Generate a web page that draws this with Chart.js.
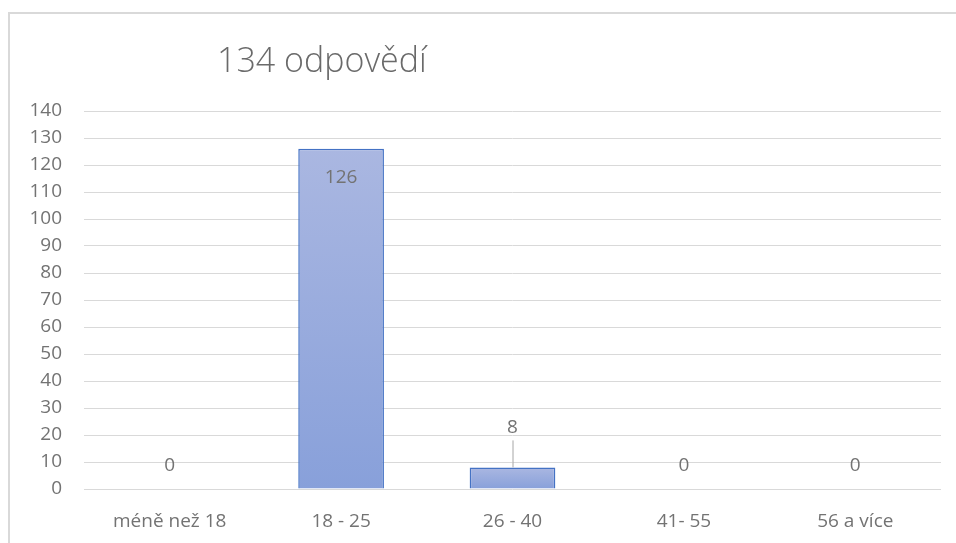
<!DOCTYPE html>
<html>
<head>
<meta charset="utf-8">
<script src="https://cdn.jsdelivr.net/npm/chart.js@4/dist/chart.umd.min.js"></script>
<style>
	body { margin: 0; background: #fff; }
	#wrap { position: relative; width: 956px; height: 543px; overflow: hidden; }
	#frame { position: absolute; left: 8px; top: 12px; width: 1000px; height: 600px;
		border-left: 2px solid #d9d9d9; border-top: 2px solid #d9d9d9; }
	#chart { position: absolute; left: 0; top: 0; }
</style>
</head>
<body>
<div id="wrap">
	<div id="frame"></div>
	<canvas id="chart" width="956" height="543"></canvas>
</div>
<script>
/* Data */
var categories = ['méně než 18', '18 - 25', '26 - 40', '41- 55', '56 a více'];
var answers = [0, 126, 8, 0, 0];
var titleText = '134 odpovědí';
var yMax = 140;
var yStep = 10;

var grey = '#737373';
var font = '"Open Sans", "Noto Sans", sans-serif';

/* Gradient per bar, lighter at the top */
var barFill = function(ctx){
	var chart = ctx.chart;
	if (!chart.chartArea || !chart.scales.y) return '#9aaddd';
	var y = chart.scales.y;
	var top = y.getPixelForValue(ctx.raw || 0);
	var base = y.getPixelForValue(0);
	if (base - top < 1) return '#9aaddd';
	var g = chart.ctx.createLinearGradient(0, top, 0, base);
	g.addColorStop(0, '#aab7e1');
	g.addColorStop(1, '#88a0da');
	return g;
};

/* Title drawn left of centre, like the Excel original */
var titlePlugin = {
	id: 'leftTitle',
	afterDraw: function(chart){
		var c = chart.ctx;
		c.save();
		c.font = '300 34px ' + font;
		c.fillStyle = '#6a6a6a';
		c.textAlign = 'left';
		c.textBaseline = 'alphabetic';
		c.fillText(titleText, 217, 72);
		c.restore();
	}
};

/* Value labels with a leader line for small bars */
var valueLabels = {
	id: 'valueLabels',
	afterDatasetsDraw: function(chart){
		var c = chart.ctx;
		var meta = chart.getDatasetMeta(0);
		c.save();
		c.font = '19px ' + font;
		c.fillStyle = grey;
		c.textAlign = 'center';
		c.textBaseline = 'middle';
		meta.data.forEach(function(bar, i){
			var v = answers[i];
			if (v > 50) {
				c.fillText(String(v), bar.x, bar.y + 29);
			} else if (v > 0) {
				c.fillText(String(v), bar.x, bar.y - 40);
				c.strokeStyle = '#a6a6a6';
				c.lineWidth = 1;
				c.beginPath();
				c.moveTo(bar.x + 0.5, bar.y);
				c.lineTo(bar.x + 0.5, bar.y - 27);
				c.stroke();
			} else {
				c.fillText(String(v), bar.x, bar.y - 23);
			}
		});
		c.restore();
	}
};

var chartData = {
	labels: categories,
	datasets: [
		{
			label: 'odpovědi',
			data: answers,
			backgroundColor: barFill,
			borderColor: '#4472c4',
			borderWidth: 1.5,
			barPercentage: 0.5,
			categoryPercentage: 1
		}
	]
};

var options = {
	responsive: false,
	animation: false,
	layout: { padding: { top: 111, right: 15, bottom: 0, left: 0 } },
	plugins: {
		legend: { display: false },
		title: { display: false },
		tooltip: { enabled: false }
	},
	scales: {
		x: {
			grid: { display: false, drawTicks: false },
			border: { display: false },
			ticks: { color: grey, font: { family: font, size: 19 }, padding: 21 },
			afterFit: function(scale){ scale.height = 54; }
		},
		y: {
			min: 0,
			max: yMax,
			grid: { color: '#d9d9d9', lineWidth: 1, drawTicks: false },
			border: { display: false },
			ticks: { stepSize: yStep, color: grey, font: { family: font, size: 19 }, padding: 22 },
			afterFit: function(scale){ scale.width = 84; }
		}
	}
};

var barChart = new Chart(document.getElementById('chart'), {
	type: 'bar',
	data: chartData,
	options: options,
	plugins: [titlePlugin, valueLabels]
});
</script>
</body>
</html>
